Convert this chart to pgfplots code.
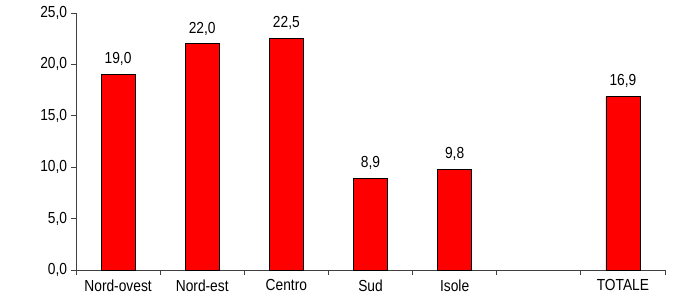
\documentclass[border=0pt]{standalone}
\usepackage{pgfplots}
\pgfplotsset{compat=1.18}
\usepackage{fontspec}
\setmainfont{Liberation Sans}
\begin{document}
\begin{tikzpicture}
\begin{axis}[
  scale only axis,
  width=589pt, height=257pt,
  ymin=0, ymax=25,
  xmin=-0.5, xmax=6.5,
  ytick={0,5,...,25},
  xtick={0,1,2,3,4,5,6},
  xticklabels={Nord-ovest,Nord-est,Centro,Sud,Isole,,TOTALE},
  major x tick style={draw=none},
  minor xtick={-0.5,0.5,...,6.5},
  axis x line=bottom, axis y line=left,
  axis line style={-, black!75, line width=0.8pt},
  tick style={black!75, line width=0.8pt},
  tick align=outside,
  major tick length=5pt, minor tick length=5pt,
  yticklabel style={/pgf/number format/use comma, /pgf/number format/fixed, /pgf/number format/fixed zerofill, /pgf/number format/precision=1, xshift=-1pt},
  /pgf/number format/assume math mode=true,
  ticklabel style={font=\fontsize{16}{18}\selectfont, black, xscale=0.86},
  xticklabel style={yshift=-1pt},
  enlargelimits=false,
  clip=false,
]
\addplot[ybar, bar width=34pt, fill=red, draw=black, line width=0.7pt,
  nodes near coords,
  nodes near coords style={font=\fontsize{16}{18}\selectfont, black, xscale=0.86, yshift=5pt,
    /pgf/number format/use comma, /pgf/number format/fixed, /pgf/number format/fixed zerofill, /pgf/number format/precision=1, /pgf/number format/assume math mode=true}]
 coordinates {(0,19.0) (1,22.0) (2,22.5) (3,8.9) (4,9.8) (6,16.9)};
\end{axis}
\path (current axis.south west) ++(-76pt,-30pt) rectangle ++(700pt,300pt);
\end{tikzpicture}
\end{document}
